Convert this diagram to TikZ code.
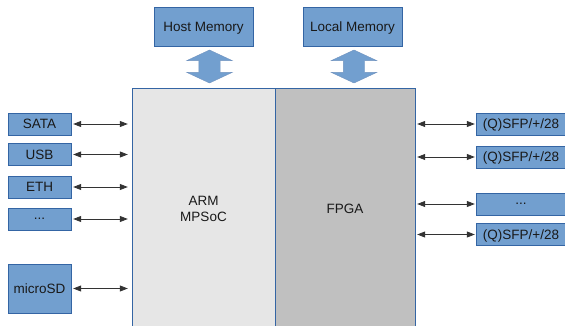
\documentclass[tikz,border=0pt]{standalone}
\usepackage{fontspec}
\setmainfont{Liberation Sans}
\usepackage{xcolor}
\definecolor{boxblue}{HTML}{729FCF}
\definecolor{boxedge}{HTML}{3465A4}
\definecolor{armgray}{HTML}{E6E6E6}
\definecolor{fpgagray}{HTML}{C0C0C0}
\usetikzlibrary{shapes.arrows, arrows.meta, positioning}

\begin{document}
\begin{tikzpicture}[
    x=1pt, y=-1pt,
    font=\fontsize{13.5}{16}\selectfont,
    iface/.style={rectangle, draw=boxedge, fill=boxblue, thin,
        minimum width=63pt, minimum height=22pt, inner sep=0pt,
        text depth=0pt, text=black!90},
    mem/.style={rectangle, draw=boxedge, fill=boxblue, thin,
        minimum width=99pt, minimum height=39pt, inner sep=0pt,
        text depth=0pt, text=black!90},
    chip/.style={rectangle, draw=boxedge, thin, minimum height=242pt,
        inner sep=0pt, align=center, text=black!90},
    memlink/.style={double arrow, draw=boxedge!70, fill=boxblue, thin,
        shape border rotate=90, minimum height=33pt, inner sep=10.5pt,
        double arrow head extend=12pt, double arrow tip angle=130},
    link/.style={{Triangle[length=8pt,width=6pt]}-{Triangle[length=8pt,width=6pt]},
        line width=0.8pt, black!80}
]
\clip (0,0) rectangle (565,326);

% Memories (top row)
\node[mem] (host) at (203.5, 26.5) {Host Memory};
\node[mem] (local) at (352.5, 26.5) {Local Memory};

% SoC halves
\node[chip, fill=armgray, minimum width=143pt] (arm) at (203.5, 209) {ARM\\MPSoC};
\node[chip, fill=fpgagray, minimum width=140pt] (fpga) at (345, 209) {FPGA};

% Block arrows to memories
\node[memlink] (hostlink) at (209.5, 66.5) {};
\node[memlink] (locallink) at (354, 66.5) {};

% ARM side interfaces
\node[iface] (sata) at (39.5, 124) {SATA};
\node[iface] (usb) at (39.5, 154.5) {USB};
\node[iface] (eth) at (39.5, 187) {ETH};
\node[iface] (armmore) at (39.5, 219) {...};
\node[iface, minimum height=49pt] (sd) at (39.5, 288.5) {microSD};

% FPGA side transceivers
\node[iface, minimum width=90pt] (sfpa) at (521, 124) {(Q)SFP/+/28};
\node[iface, minimum width=90pt] (sfpb) at (521, 157) {(Q)SFP/+/28};
\node[iface, minimum width=90pt] (fpgamore) at (521, 204) {...};
\node[iface, minimum width=90pt] (sfpc) at (521, 234.5) {(Q)SFP/+/28};

% Links ARM <-> interfaces
\foreach \n in {sata, usb, eth, armmore, sd}
    \draw[link, shorten <=2pt, shorten >=4pt] (\n.east) -- (\n.east -| arm.west);

% Links FPGA <-> transceivers
\foreach \n in {sfpa, sfpb, fpgamore, sfpc}
    \draw[link, shorten <=2pt, shorten >=1pt] (\n.west -| fpga.east) -- (\n.west);

\end{tikzpicture}
\end{document}
